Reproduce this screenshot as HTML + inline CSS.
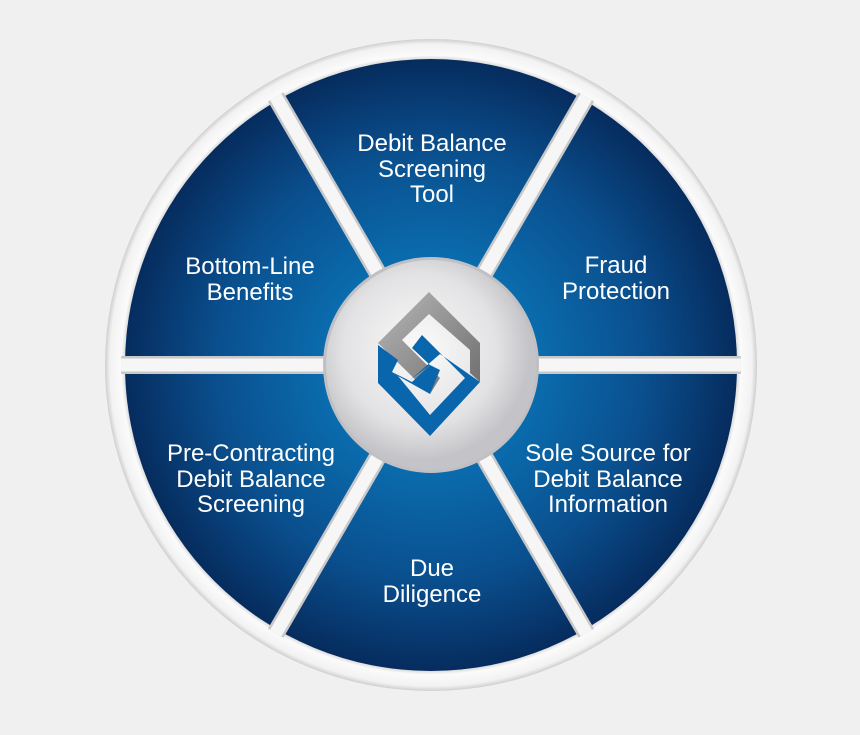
<!DOCTYPE html>
<html><head><style>
html,body{margin:0;padding:0;background:#f0f0f0;}
body{width:860px;height:730px;overflow:hidden;}
text{font-family:"Liberation Sans",sans-serif;font-size:24px;fill:#fff;text-anchor:middle;}
</style></head><body>
<svg width="860" height="730" viewBox="0 0 860 730">
<defs>
<radialGradient id="bl" cx="431" cy="365" r="306" gradientUnits="userSpaceOnUse">
<stop offset="0.3" stop-color="#0a70b2"/>
<stop offset="0.7" stop-color="#0a4f8e"/>
<stop offset="1" stop-color="#062c5e"/>
</radialGradient>
<radialGradient id="ring" cx="431" cy="365" r="326" gradientUnits="userSpaceOnUse">
<stop offset="0.93" stop-color="#c4c4c4"/>
<stop offset="0.95" stop-color="#fbfbfb"/>
<stop offset="0.985" stop-color="#f2f2f2"/>
<stop offset="1" stop-color="#cfcfcf"/>
</radialGradient>
<radialGradient id="ctr" cx="420" cy="350" r="110" gradientUnits="userSpaceOnUse">
<stop offset="0" stop-color="#fbfbfb"/>
<stop offset="0.7" stop-color="#e2e2e4"/>
<stop offset="1" stop-color="#c4c4c8"/>
</radialGradient>
<linearGradient id="gr" x1="0" y1="0" x2="1" y2="1">
<stop offset="0" stop-color="#b8b8b8"/><stop offset="1" stop-color="#6c6c6c"/>
</linearGradient>
<clipPath id="cp"><circle cx="431" cy="365" r="310"/></clipPath>
</defs>
<circle cx="431" cy="365" r="326" fill="url(#ring)"/>
<circle cx="431" cy="365" r="306" fill="url(#bl)"/>
<g clip-path="url(#cp)">
<g stroke="#c8c8c8" stroke-width="18">
<line x1="110" y1="365" x2="752" y2="365"/>
<line x1="270" y1="87" x2="592" y2="643"/>
<line x1="592" y1="87" x2="270" y2="643"/>
</g>
<g stroke="#f6f6f6" stroke-width="13">
<line x1="110" y1="365" x2="752" y2="365"/>
<line x1="270" y1="87" x2="592" y2="643"/>
<line x1="592" y1="87" x2="270" y2="643"/>
</g>
</g>
<circle cx="431" cy="365" r="108" fill="#c0c0c4"/>
<circle cx="431" cy="365" r="105" fill="url(#ctr)"/>
<polygon points="429,292 480,343 480,382 470,373 470,350 429,314 402,340 440,378 430,394 378,343" fill="url(#gr)"/>
<polygon points="378,345 398,360 392,372 398,376 430,415 465,378 422,335 412,348 430,365 410,380 440,354 480,382 430,436 378,383" fill="#0a66ac"/>
<polygon points="392,372 412,382 430,365 440,370 430,394 398,376" fill="#0a66ac"/>
<text x="432" y="151">Debit Balance</text>
<text x="432" y="177">Screening</text>
<text x="432" y="202">Tool</text>
<text x="616" y="273">Fraud</text>
<text x="616" y="299">Protection</text>
<text x="250" y="274">Bottom-Line</text>
<text x="250" y="300">Benefits</text>
<text x="251" y="461">Pre-Contracting</text>
<text x="251" y="487">Debit Balance</text>
<text x="251" y="512">Screening</text>
<text x="608" y="461">Sole Source for</text>
<text x="608" y="487">Debit Balance</text>
<text x="608" y="512">Information</text>
<text x="432" y="576">Due</text>
<text x="432" y="602">Diligence</text>
</svg>
</body></html>
